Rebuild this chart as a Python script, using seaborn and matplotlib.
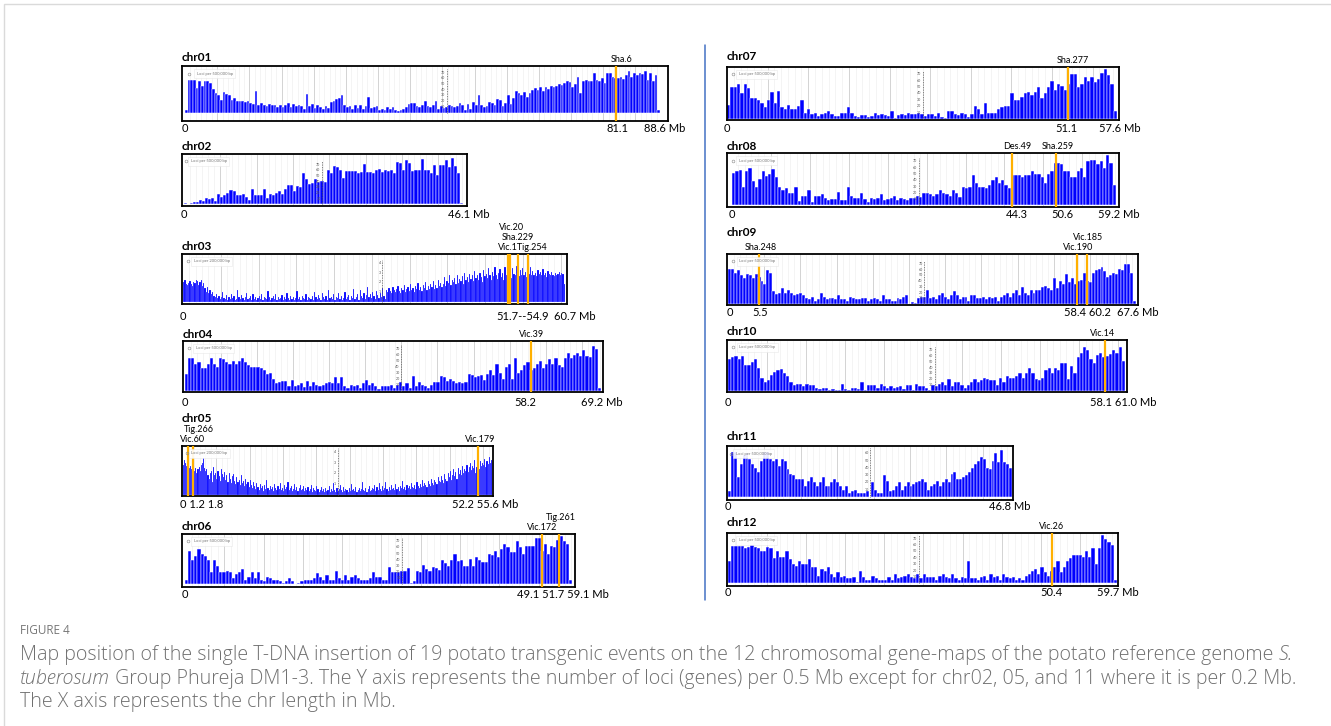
import numpy as np
import pandas as pd
import matplotlib
matplotlib.use("Agg")
import matplotlib.pyplot as plt
import matplotlib.transforms as mtransforms
import seaborn as sns
from matplotlib.patches import Rectangle
from matplotlib.lines import Line2D

# ---------------- data (loci per bin) ----------------
chr_names = ["chr01", "chr02", "chr03", "chr04", "chr05", "chr06",
             "chr07", "chr08", "chr09", "chr10", "chr11", "chr12"]
chr_lengths = [88.6, 46.1, 60.7, 69.2, 55.6, 59.1, 57.6, 59.2, 67.6, 61.0, 46.8, 59.7]

chr01 = [5, 57, 57, 57, 43, 55, 47, 55, 55, 52,
         42, 35, 30, 22, 36, 33, 30, 22, 25, 20,
         20, 21, 18, 21, 16, 15, 38, 14, 17, 14,
         12, 15, 14, 13, 10, 13, 9, 13, 16, 10,
         15, 12, 14, 11, 7, 33, 12, 15, 8, 13,
         9, 6, 12, 8, 18, 20, 23, 25, 30, 14,
         10, 12, 6, 13, 8, 14, 7, 11, 27, 8,
         10, 12, 5, 7, 5, 9, 6, 10, 4, 3,
         5, 7, 10, 15, 17, 16, 12, 10, 14, 21,
         12, 9, 14, 20, 7, 12, 8, 10, 14, 11,
         9, 12, 16, 14, 5, 15, 7, 18, 14, 30,
         14, 10, 12, 18, 16, 14, 23, 22, 12, 16,
         30, 15, 25, 38, 35, 31, 36, 28, 35, 40,
         43, 40, 44, 38, 45, 42, 46, 44, 47, 50,
         48, 52, 55, 53, 45, 50, 62, 35, 55, 57,
         55, 56, 70, 57, 55, 60, 52, 70, 70, 62,
         60, 60, 63, 58, 65, 72, 63, 70, 65, 70,
         68, 72, 57, 70, 55, 65, 5]
chr02 = [3, 1, 3, 4, 4, 8, 6, 11, 10, 11, 6,
         18, 14, 16, 21, 25, 23, 17, 17, 19, 13, 7,
         27, 16, 17, 17, 27, 11, 19, 17, 20, 24, 18,
         28, 35, 35, 24, 32, 30, 55, 44, 36, 38, 44, 40, 42,
         40, 60, 55, 67, 65, 60, 47, 58, 58, 58, 58,
         55, 57, 71, 57, 57, 55, 60, 62, 57, 60, 58, 60, 55,
         75, 73, 60, 78, 72, 58, 60, 60, 80, 61, 60, 55, 70, 52,
         70, 70, 78, 66, 82, 67, 55, 3]
chr03 = [20, 22, 18, 17, 19, 21, 18, 16, 20, 19, 22, 21, 17, 20, 22, 16, 19, 14, 10, 15, 9, 12, 8, 10, 6,
         5, 8, 4, 6, 3, 5, 10, 4, 3, 7, 2, 5, 3, 8, 4, 6, 2, 3, 12, 5, 3, 7, 4, 2, 5, 9, 3, 4, 6, 2, 8, 3, 5, 2, 4, 6,
         3, 8, 2, 5, 4, 3, 11, 5, 2, 4, 6, 3, 8, 2, 5, 3, 4, 7, 2, 5, 3, 9, 4, 2, 6, 3, 5, 2, 4, 11,
         3, 5, 2, 6, 4, 3, 8, 2, 5, 4,
         3, 6, 2, 10, 5, 3, 7, 4, 2, 9, 5, 3, 6, 2, 12, 4, 5, 3, 8, 2, 5, 4, 9, 3, 6, 2, 4, 10, 3, 5,
         7, 2, 6, 4, 13, 3, 5, 8, 2, 12, 6, 4, 9, 3, 7, 15, 5, 8, 4, 10, 6, 3, 11, 7, 4, 9, 5, 14, 6, 3,
         12, 10, 14, 11, 9, 15, 12, 10, 13, 16, 11, 9, 14, 12, 17, 10, 13, 15, 11, 18, 12, 14, 10,
         16, 13, 19, 12, 15, 11, 17, 14, 20, 12, 16, 13, 18, 15, 21, 13, 17, 14, 22, 16, 19, 15,
         18, 25, 16, 21, 19, 27, 17, 22, 20, 24, 18, 28, 19, 23, 21, 26, 18, 30, 22, 25, 20, 29, 23,
         27, 21, 32, 24, 28, 22, 30, 25, 20, 33, 26, 29, 24, 35, 27, 22, 31, 26, 36, 28, 23, 30,
         34, 25, 30, 22, 36, 28, 33, 26, 31, 24, 35, 29, 27, 37, 30, 26, 33, 28, 35, 27, 31, 25, 34,
         29, 36, 27, 32, 28, 30, 26, 33, 29, 31, 27, 34, 28, 30, 25, 32, 29, 27, 31, 28, 26, 30, 27,
         29, 31, 28, 30, 29, 18]
chr04 = [27, 55, 55, 44, 48, 38, 38, 44, 55, 45, 40, 55, 52, 48, 44, 50, 45, 50,
         55, 48, 42, 40, 40, 39, 37, 35, 28, 30, 20,
         13, 15, 16, 16, 7, 18, 8, 10, 12, 6, 16, 8, 14, 10, 8, 10, 12, 14,
         13, 22, 12, 22, 8, 5, 9, 8, 10, 5, 13, 18, 10, 13, 8, 3, 8,
         8, 7, 10, 5, 10, 14, 8, 12, 5, 25, 8, 14, 10, 8, 5, 10, 15, 14, 25, 22, 16, 20, 16, 12, 15,
         13, 15, 28, 26, 22, 24, 26, 18, 28, 35, 26, 45, 30, 20, 40, 45, 20, 55, 30, 35,
         43, 47, 35, 38, 45, 50, 38, 45, 52, 45, 55, 42, 40, 55, 63, 55, 60, 62, 58, 68, 57, 56,
         75, 70, 5]
chr05 = [28, 32, 30, 27, 29, 25, 27, 24, 26, 15, 22, 25, 20, 24, 26, 22, 28, 30, 34, 25, 22,
         24, 18, 15, 20, 22, 12, 26, 18, 20, 15, 22, 17, 13, 24, 19, 16, 21, 14, 18, 12,
         20, 15, 11, 17, 19, 13, 10, 16, 12, 14, 9, 18, 11, 13, 8, 15, 10, 12, 7, 14,
         9, 6, 12, 8, 5, 11, 7, 4, 10, 6, 8, 3, 9, 5, 14, 6, 4, 8, 5, 7, 3, 10, 6, 4, 8,
         5, 11, 4, 6, 3, 9, 5, 7, 12, 4, 6, 8, 3, 5, 10, 4, 7, 3, 6, 9, 4, 5, 8, 3, 6,
         4, 7, 3, 5, 9, 2, 6, 4, 3, 8, 5, 2, 4, 7, 3, 5, 2, 6, 3, 4, 8, 2, 5, 3, 11, 4, 2, 6, 3, 5,
         9, 4, 2, 7, 3, 5, 4, 2, 6, 3, 10, 4, 5, 3, 7, 2, 4, 6, 3, 5, 12, 4, 3, 6, 2, 5, 8, 3, 4, 6,
         5, 9, 3, 7, 4, 11, 5, 3, 8, 4, 6, 12, 5, 3, 7, 4, 9, 5, 6, 4, 10, 5, 7, 3, 8, 6, 13, 5, 7, 4,
         9, 6, 8, 5, 11, 7, 6, 9, 5, 12, 8, 6, 10, 7, 14, 8, 11, 9, 7, 13, 10, 8, 15, 11, 9, 14, 12, 10, 16, 13,
         12, 17, 14, 11, 19, 15, 13, 20, 16, 22, 14, 18, 24, 17, 21, 15, 25, 19, 23, 18, 27, 20, 24,
         22, 28, 21, 26, 30, 23, 27, 25, 32, 20, 26, 29, 24, 31, 27, 30, 28, 33, 26, 31, 29, 35, 30, 32]
chr06 = [8, 55, 40, 47, 57, 50, 47, 40,
         20, 40, 30, 20, 20, 22, 20, 10, 17, 20, 25,
         8, 12, 20, 10, 20, 8, 5, 12, 10, 8, 8, 6, 3, 6, 10,
         5, 1, 2, 5, 8, 8, 8, 10, 18, 12, 8, 15, 8, 8, 22, 10, 8, 15,
         8, 12, 15, 10, 8, 8, 8, 10, 20, 12, 12, 8, 8, 28, 20, 20, 20, 22, 22, 27, 3, 5,
         22, 20, 32, 25, 22, 28, 27, 24, 40, 35, 30, 40, 50, 38, 40, 30, 30, 42, 30, 45, 40,
         37, 37, 50, 48, 55, 45, 57, 65, 60, 52, 52, 70, 60, 50, 62, 62, 63, 75, 75,
         55, 65, 50, 62, 60, 72, 78, 70, 65, 7]
chr07 = [22, 50, 50, 55, 40, 55, 48,
         32, 32, 30, 25, 18, 30, 42, 25, 43, 18, 15, 22, 15, 15, 20,
         30, 10, 15, 8, 10, 4, 8, 10, 12, 8, 4, 4, 10, 10, 18, 10,
         5, 3, 6, 6, 3, 4, 9, 6, 8, 6, 5, 12, 2, 6, 8, 6, 10, 8, 8, 10, 8, 5,
         8, 8, 5, 10, 3, 2, 12, 12, 8, 6, 10, 8, 3, 8, 20, 15, 8, 25, 10, 10,
         10, 15, 18, 20, 20, 40, 30, 30, 35, 40, 42, 38, 42, 50, 32, 40, 50, 60, 45, 55, 52, 45,
         55, 70, 70, 50, 55, 65, 60, 65, 58, 62, 72, 78, 68, 55, 12]
chr08 = [52, 55, 57, 30, 55, 60, 38, 30, 42, 55, 47, 50, 58,
         45, 30, 25, 28, 20, 20, 30, 7, 15, 15,
         25, 5, 15, 15, 18, 12, 8, 10, 10, 22, 8, 8, 30, 15,
         12, 12, 20, 10, 6, 12, 10, 12, 18, 8, 10, 12, 15, 8, 12, 10, 8, 12, 12, 15,
         14, 20, 20, 18, 15, 18, 25, 20, 18, 15, 25, 20, 14, 30, 28, 30,
         48, 35, 30, 30, 28, 33, 40, 45, 35, 40, 32, 28,
         48, 48, 48, 45, 48, 48, 55, 50, 50, 45, 35, 50, 55,
         68, 67, 65, 55, 55, 45, 45, 55, 60, 45, 70, 72, 72, 65, 70, 60, 80, 68, 32]
chr09 = [62, 62, 55, 60, 50, 45, 52, 50, 45, 52, 48,
         40, 35, 60, 55, 22, 18, 20, 28, 20, 25, 20, 15, 18, 20,
         15, 10, 8, 12, 5, 8, 20, 12, 8, 10, 10, 8, 15, 8, 8, 5,
         12, 10, 8, 8, 10, 10, 5, 8, 10, 8, 5, 15, 8, 8, 5, 5, 10, 8, 12, 15, 0,
         3, 2, 10, 12, 12, 25, 10, 12, 8, 15, 20, 12, 8, 15, 22, 15, 8, 12, 12,
         5, 15, 15, 10, 10, 12, 8, 12, 10, 12, 5, 12, 15, 20, 12,
         20, 25, 15, 30, 20, 15, 25, 20, 25, 25, 30, 32, 28, 25, 45, 28, 40, 35, 52,
         38, 45, 35, 40, 42, 55, 40, 38, 55, 60, 62, 65, 58, 48, 50, 55, 52, 62, 60, 70, 70, 55, 5]
chr10 = [55, 58, 60, 55, 60, 45, 45, 50, 55, 40,
         22, 15, 18, 28, 32, 35, 38, 30, 25, 15, 10,
         12, 12, 8, 12, 10, 10, 5, 3, 5, 5, 1, 3, 2, 2, 12, 3, 2,
         5, 5, 3, 15, 1, 10, 10, 10, 5, 12, 8, 5, 8, 5, 6, 8,
         3, 10, 10, 2, 12, 8, 8, 5, 2, 10, 8, 12, 15, 10, 20,
         8, 15, 15, 10, 5, 10, 15, 20, 15, 18, 22, 20, 18, 18, 10, 22, 15,
         25, 22, 22, 25, 30, 22, 30, 40, 30, 20, 18, 22, 35,
         40, 30, 40, 35, 48, 48, 20, 42, 30, 58, 65, 75, 70, 55, 48, 62, 65, 58, 60, 63, 70, 65, 75, 52]
chr11 = [8, 62, 62, 28, 45, 58, 60, 52, 45, 40, 35,
         50, 62, 62, 52, 50, 52, 43, 52, 50, 38, 32, 30, 25, 25,
         25, 15, 22, 28, 20, 15, 20, 28, 15, 15, 20, 25, 20, 15, 10, 15, 5, 8, 10, 5, 5,
         5, 8, 0,
         20, 10, 5, 5, 30, 22, 8, 10, 15, 20, 10, 15, 20, 15, 18, 20, 22,
         25, 20, 10, 15, 18, 22, 15, 20, 25, 20, 32, 35, 25, 25, 28, 30, 35, 40, 45, 50, 55,
         52, 40, 38, 50, 60, 48, 65, 48, 45, 40]
chr12 = [35, 58, 58, 58, 58, 56, 57, 60, 57, 55, 50,
         50, 57, 55, 40, 50, 42, 42, 50, 38, 30, 28, 35,
         30, 30, 38, 25, 25, 12, 22, 20, 25, 15, 10, 18, 10, 12, 8, 8,
         10, 2, 20, 10, 5, 5, 12, 8, 5, 5, 5, 10, 5, 15, 8, 10, 12, 15, 10, 8, 15,
         8, 15, 10, 10, 10, 5, 12, 15, 10, 8, 15, 8, 5, 10, 8, 35, 8,
         8, 5, 10, 12, 5, 15, 10, 12, 5, 15, 10, 8, 10, 5, 8,
         5, 12, 15, 20, 22, 15, 25, 18, 12, 20,
         25, 35, 18, 25, 35, 40, 45, 45, 45, 42, 50, 42, 55, 30, 55, 75, 70, 65, 60, 5]
chr_values = [chr01, chr02, chr03, chr04, chr05, chr06,
              chr07, chr08, chr09, chr10, chr11, chr12]

# T-DNA insertion events: chromosome, line position (Mb, as drawn)
event_chr = ["chr01", "chr03", "chr03", "chr03", "chr03", "chr04", "chr05", "chr05", "chr05",
             "chr06", "chr06", "chr07", "chr08", "chr08", "chr09", "chr09", "chr09", "chr10", "chr12"]
event_pos = [80.4, 51.6, 52.0, 53.2, 54.9, 57.6, 0.9, 1.8, 53.1,
             54.5, 57.1, 50.4, 43.2, 50.0, 5.1, 57.8, 59.5, 57.9, 49.7]

# event name labels above the panels
elab_chr = ["chr01", "chr03", "chr03", "chr03", "chr04", "chr05", "chr05", "chr05",
            "chr06", "chr06", "chr07", "chr08", "chr08", "chr09", "chr09", "chr09", "chr10", "chr12"]
elab_text = ["Sha.6", "Vic.20", "Sha.229", "Vic.1Tig.254", "Vic.39", "Tig.266", "Vic.60", "Vic.179",
             "Tig.261", "Vic.172", "Sha.277", "Des.49", "Sha.259", "Vic.185", "Sha.248", "Vic.190",
             "Vic.14", "Vic.26"]
elab_x = [81.5, 52.2, 53.2, 54.0, 57.7, 2.9, 1.8, 53.4,
          57.4, 54.5, 51.1, 44.0, 50.3, 59.6, 5.4, 58.0, 57.6, 49.7]
elab_level = [0, 2, 1, 0, 0, 1, 0, 0, 1, 0, 0, 0, 0, 1, 0, 0, 0, 0]

# position labels below the panels
tlab_chr = ["chr01", "chr01", "chr01", "chr02", "chr02", "chr03", "chr03", "chr03",
            "chr04", "chr04", "chr04", "chr05", "chr05",
            "chr06", "chr06", "chr07", "chr07", "chr07",
            "chr08", "chr08", "chr08", "chr08", "chr09", "chr09", "chr09", "chr09",
            "chr10", "chr10", "chr11", "chr11", "chr12", "chr12", "chr12"]
tlab_text = ["0", "81.1", "88.6 Mb", "0", "46.1 Mb", "0", "51.7--54.9", "60.7 Mb",
             "0", "58.2", "69.2 Mb", "0 1.2 1.8", "52.2 55.6 Mb",
             "0", "49.1 51.7 59.1 Mb", "0", "51.1", "57.6 Mb",
             "0", "44.3", "50.6", "59.2 Mb", "0", "5.5", "58.4 60.2", "67.6 Mb",
             "0", "58.1 61.0 Mb", "0", "46.8 Mb", "0", "50.4", "59.7 Mb"]
tlab_x = [0, 80.6, 89.5, 0, 47.1, 0, 53.9, 62.3,
          0, 56.6, 69.4, 3.4, 54.3,
          0, 57.7, 0, 50.1, 58.0,
          0, 43.9, 50.9, 59.7, 0.3, 5.3, 59.5, 67.9,
          0, 60.8, 0, 46.5, 0, 49.7, 59.9]

# ---------------- layout (pixels in a 1331 x 726 canvas) ----------------
W, H = 1331, 726
layout = {
    "chr01": dict(box=(182, 66, 668, 121), data=(185, 660), tdy=8, ldy=7, head=1.13, bot=0.18, mid=0.545),
    "chr02": dict(box=(182, 154, 467, 206), data=(184, 463), tdy=7, ldy=9, head=1.08, bot=0.03, mid=0.49),
    "chr03": dict(box=(182, 254, 567, 304), data=(183, 565), tdy=8, ldy=12, head=1.32, bot=0.04, mid=0.52),
    "chr04": dict(box=(183, 341, 603, 392), data=(185, 601), tdy=7, ldy=10, head=1.10, bot=0.03, mid=0.52),
    "chr05": dict(box=(182, 446, 493, 496), data=(183, 492), tdy=28, ldy=9, head=1.30, bot=0.03, mid=0.50),
    "chr06": dict(box=(182, 534, 575, 587), data=(185, 572), tdy=7, ldy=7, head=1.05, bot=0.05, mid=0.56),
    "chr07": dict(box=(727, 67, 1119, 120), data=(727, 1117), tdy=11, ldy=8, head=1.04, bot=0.02, mid=0.50),
    "chr08": dict(box=(727, 153, 1119, 207), data=(732, 1116), tdy=6, ldy=8, head=1.04, bot=0.03, mid=0.49),
    "chr09": dict(box=(727, 254, 1138, 305), data=(728, 1136), tdy=22, ldy=8, head=1.25, bot=0.02, mid=0.48),
    "chr10": dict(box=(727, 340, 1127, 392), data=(728, 1125), tdy=9, ldy=10, head=1.16, bot=0.02, mid=0.52),
    "chr11": dict(box=(727, 446, 1013, 500), data=(728, 1012), tdy=9, ldy=6, head=1.08, bot=0.06, mid=0.50),
    "chr12": dict(box=(727, 533, 1118, 586), data=(728, 1117), tdy=10, ldy=7, head=1.05, bot=0.05, mid=0.49),
}
fine_bins = {"chr03", "chr05"}

sns.set_style("white")
plt.rcParams["font.family"] = ["Lato", "DejaVu Sans"]
PT = 72.0 / 100.0  # points per pixel at dpi 100

fig = plt.figure(figsize=(W / 100, H / 100), dpi=100)

axes = {}
for name, L, vals in zip(chr_names, chr_lengths, chr_values):
    cfg = layout[name]
    l, t, r, b = cfg["box"]
    ds, de = cfg["data"]
    ax = fig.add_axes([l / W, 1 - b / H, (r - l) / W, (b - t) / H])
    axes[name] = ax
    n = len(vals)
    bw = L / n
    df = pd.DataFrame({"pos": (np.arange(n) + 0.5) * bw, "loci": vals})
    # light grid
    for g in np.arange(1, L, 1.0):
        ax.axvline(g, color="#f0f0f0", lw=0.5, zorder=0)
    for g in np.arange(6, L, 6.0):
        ax.axvline(g, color="#d4d4d4", lw=0.7, zorder=0)
    sns.histplot(data=df, x="pos", weights="loci", binwidth=bw, binrange=(0, L), ax=ax,
                 stat="count", color="#0000FF", alpha=1.0, edgecolor="white",
                 linewidth=0.12 if name in fine_bins else 0.35, zorder=2)
    s = (de - ds) / L
    ax.set_xlim(-(ds - l) / s, L + (r - de) / s)
    ymax = max(vals) * cfg["head"]
    ax.set_ylim(-cfg["bot"] * ymax, ymax)
    ax.set_xlabel("")
    ax.set_ylabel("")
    ax.set_xticks([])
    ax.set_yticks([])
    for sp in ax.spines.values():
        sp.set_visible(True)
        sp.set_color("black")
        sp.set_linewidth(1.3)
    # small inner scale in the middle
    mid = cfg["mid"]
    btr = mtransforms.blended_transform_factory(ax.transAxes, ax.transData)
    ticks = [10, 20, 30, 40] if name in fine_bins else [10, 20, 30, 40, 50, 60, 70]
    ax.plot([mid, mid], [0, min(ticks[-1] * 1.08, ymax * 0.97)], transform=btr,
            color="#555555", lw=0.6, ls=(0, (1, 1)), zorder=3)
    for tv in ticks:
        if tv < ymax * 0.95:
            lab = str(tv // 10) if name in fine_bins else str(tv)
            ax.text(mid - 0.004, tv, lab, transform=btr, ha="right", va="center",
                    fontsize=2.6, color="#555555", zorder=4)
    # legend box
    leg = "Loci per 200,000 bp" if name in fine_bins else "Loci per 500,000 bp"
    ax.text(0.03, 0.86, leg, transform=ax.transAxes, fontsize=3.0, color="#777777", va="center", ha="left",
            zorder=5, bbox=dict(boxstyle="square,pad=0.6", fc="white", ec="#e6e6e6", lw=0.4, alpha=0.9))
    ax.plot([0.015], [0.86], marker="o", ms=2.0, mfc="none", mec="#888888", mew=0.4,
            transform=ax.transAxes, zorder=6)
    # title
    ax.annotate(name, xy=(0, 1), xycoords="axes fraction", xytext=(0, cfg["tdy"] * PT),
                textcoords="offset points", ha="left", va="center", fontsize=8.5,
                fontweight="bold", color="black")

# insertion lines
for c, p in zip(event_chr, event_pos):
    axes[c].axvline(p, color="#FFB000", lw=1.6, zorder=4)

# event names
for c, txt, x, lev in zip(elab_chr, elab_text, elab_x, elab_level):
    ax = axes[c]
    ax.annotate(txt, xy=(x, 1), xycoords=ax.get_xaxis_transform(),
                xytext=(0, (6.5 + 10 * lev) * PT), textcoords="offset points",
                ha="center", va="center", fontsize=6.5, color="black", annotation_clip=False)

# position labels
for c, txt, x in zip(tlab_chr, tlab_text, tlab_x):
    ax = axes[c]
    ax.annotate(txt, xy=(x, 0), xycoords=ax.get_xaxis_transform(),
                xytext=(0, -layout[c]["ldy"] * PT), textcoords="offset points",
                ha="center", va="center", fontsize=8, color="black", annotation_clip=False)

# separator line between the two columns
fig.add_artist(Line2D([705 / W, 705 / W], [1 - 45 / H, 1 - 600 / H], color="#4472C4", lw=1.1))
# light outer frame
fig.add_artist(Rectangle((4 / W, -0.05), 1.1, 1.05 - 4 / H, fill=False, edgecolor="#dadada",
                         lw=1.0, transform=fig.transFigure))

# caption
cap_color = "#707070"
cap_font = ["Open Sans", "DejaVu Sans"]
fig.text(20 / W, 1 - 631 / H, "FIGURE 4", fontsize=8.5, color="#777777", va="center", ha="left",
         family=cap_font)
renderer = fig.canvas.get_renderer()

line1 = [("Map position of the single T-DNA insertion of 19 potato transgenic events on the 12 "
          "chromosomal gene-maps of the potato reference genome ", "normal"), ("S.", "italic")]
line2 = [("tuberosum", "italic"),
         (" Group Phureja DM1-3. The Y axis represents the number of loci (genes) per 0.5 Mb "
          "except for chr02, 05, and 11 where it is per 0.2 Mb.", "normal")]
line3 = [("The X axis represents the chr length in Mb.", "normal")]

# fit the caption size so that the first line spans the same width as in the reference
probe = fig.text(0, 0, line1[0][0] + line1[1][0], fontsize=12, family=cap_font, weight="light")
pw = probe.get_window_extent(renderer).width
probe.remove()
cap_size = 12 * 1272.0 / pw


def caption_line(y_px, pieces):
    x = 20 / W
    for txt, style in pieces:
        t = fig.text(x, 1 - y_px / H, txt, fontsize=cap_size, color=cap_color, va="center",
                     ha="left", style=style, family=cap_font, weight="light")
        bb = t.get_window_extent(renderer)
        x = bb.x1 / W


caption_line(655, line1)
caption_line(679, line2)
caption_line(702, line3)

fig.savefig("out.png", dpi=100, facecolor="white")
